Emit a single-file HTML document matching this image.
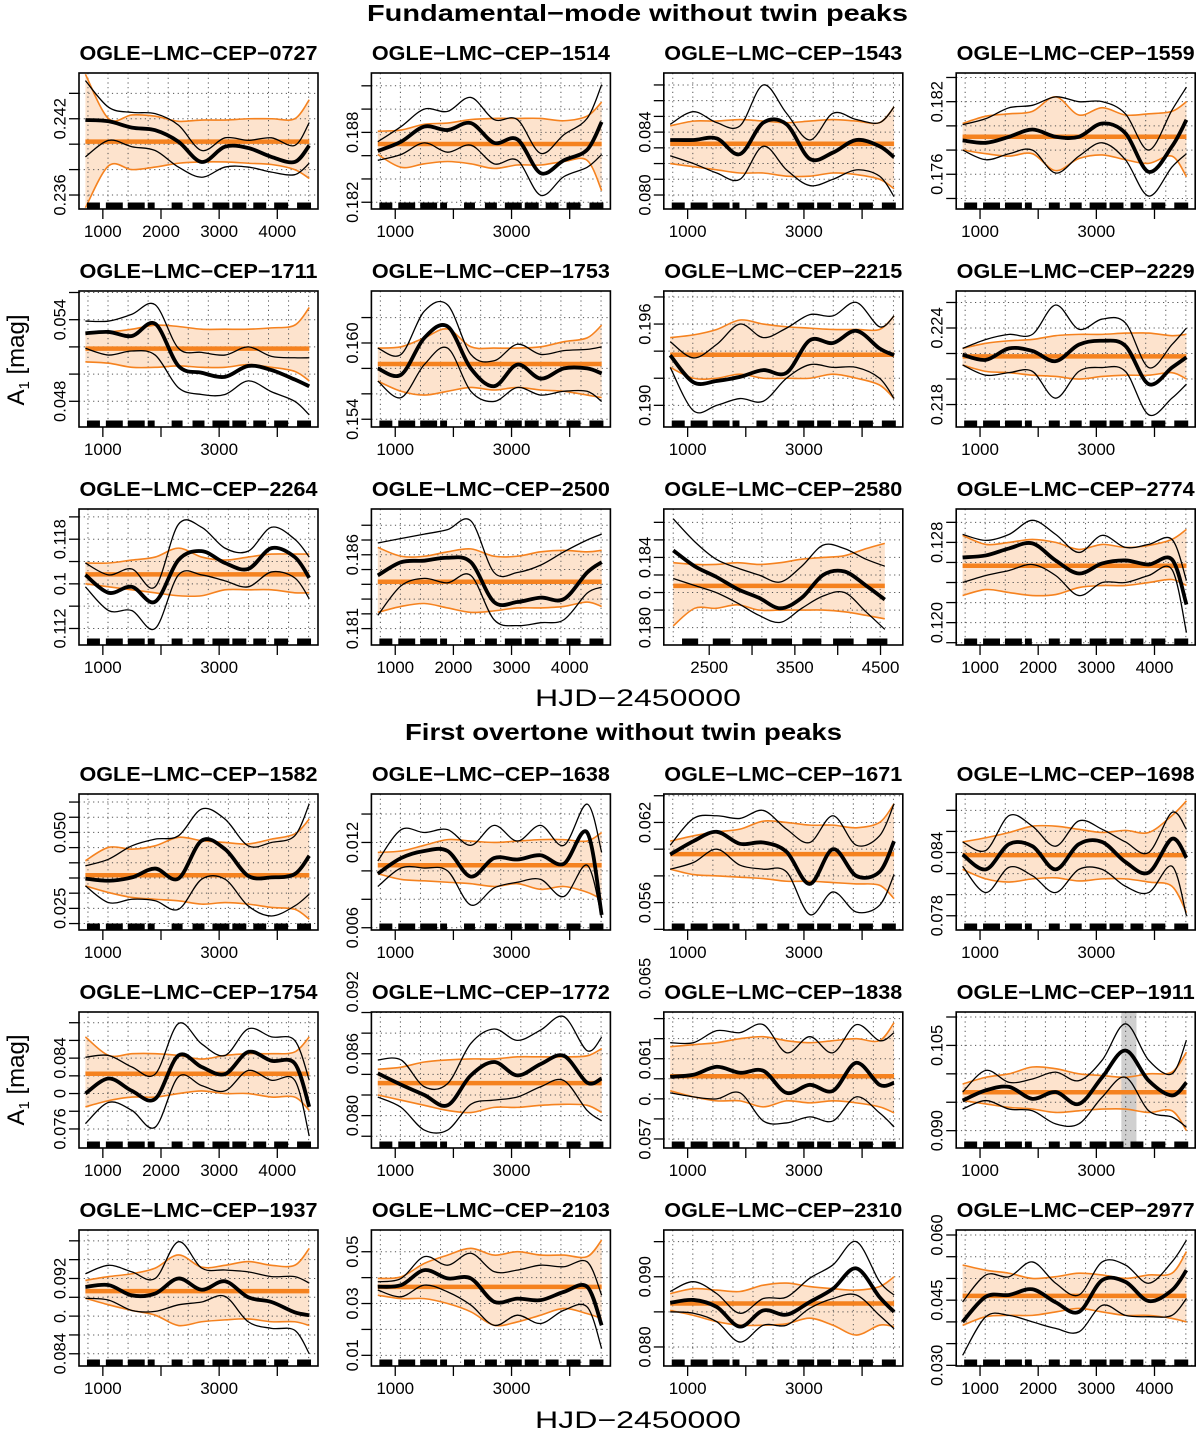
<!DOCTYPE html>
<html><head><meta charset="utf-8"><style>
html,body{margin:0;padding:0;background:#fff;}
svg{display:block;}
text{font-family:"Liberation Sans",Arial,sans-serif;fill:#000;}
</style></head><body>
<svg id="fig" width="1200" height="1430" viewBox="0 0 1200 1430" xmlns="http://www.w3.org/2000/svg">
<text x="637.5" y="21" text-anchor="middle" font-size="23" font-weight="bold" textLength="541" lengthAdjust="spacingAndGlyphs">Fundamental−mode without twin peaks</text>
<text x="623.5" y="740" text-anchor="middle" font-size="23" font-weight="bold" textLength="437" lengthAdjust="spacingAndGlyphs">First overtone without twin peaks</text>
<text x="638" y="706" text-anchor="middle" font-size="24" textLength="206" lengthAdjust="spacingAndGlyphs">HJD−2450000</text>
<text x="638" y="1428" text-anchor="middle" font-size="24" textLength="206" lengthAdjust="spacingAndGlyphs">HJD−2450000</text>
<text transform="translate(24,360) rotate(-90)" text-anchor="middle" font-size="24">A<tspan font-size="15" dy="5">1</tspan><tspan dy="-5"> [mag]</tspan></text>
<text transform="translate(24,1080) rotate(-90)" text-anchor="middle" font-size="24">A<tspan font-size="15" dy="5">1</tspan><tspan dy="-5"> [mag]</tspan></text>
</svg>
<script>
// ---- shared x samples ----
const hjd = [700,1100,1500,1900,2300,2700,3100,3500,3900,4300,4550];
const hjd2580 = [2080,2330,2580,2830,3080,3330,3580,3830,4080,4330,4550];
const xTicksStd = [1000,2000,3000,4000];
const xLabStd = ['1000','','3000',''];
const xLabFull = ['1000','2000','3000','4000'];
const xTicks2580 = [2500,3000,3500,4000,4500];
const xLab2580 = ['2500','','3500','','4500'];
const rugSeasons = [[727,950],[1052,1343],[1429,1720],[1772,1891],[2183,2371],[2542,2748],[2885,3176],[3227,3467],[3587,3809],[3946,4186],[4340,4580]];

// ---- 0727 ----
const c0727 = [0.2419,0.2418,0.2413,0.2411,0.2402,0.2386,0.2398,0.2397,0.2390,0.2386,0.2399];
const u0727 = [0.2450,0.2429,0.2425,0.2424,0.2415,0.2395,0.2405,0.2403,0.2405,0.2399,0.2417];
const l0727 = [0.2390,0.2403,0.2398,0.2395,0.2382,0.2374,0.2382,0.2382,0.2378,0.2376,0.2385];
const bu0727 = [0.2455,0.2420,0.2423,0.2422,0.2418,0.2419,0.2419,0.2420,0.2420,0.2420,0.2435];
const bl0727 = [0.2350,0.2383,0.2380,0.2382,0.2385,0.2386,0.2386,0.2385,0.2384,0.2380,0.2373];
const yt0727 = [0.244,0.242,0.240,0.238,0.236];
const yl0727 = ['','0.242','','','0.236'];
// ---- 1514 ----
const c1514 = [0.1864,0.1872,0.1885,0.1882,0.1888,0.1871,0.1874,0.1845,0.1856,0.1865,0.1889];
const u1514 = [0.1872,0.1885,0.1900,0.1898,0.1910,0.1891,0.1891,0.1862,0.1878,0.1892,0.1921];
const l1514 = [0.1856,0.1861,0.1871,0.1863,0.1869,0.1853,0.1856,0.1826,0.1842,0.1850,0.1861];
const bu1514 = [0.1881,0.1882,0.1887,0.1888,0.1891,0.1892,0.1892,0.1892,0.1890,0.1894,0.1906];
const bl1514 = [0.1861,0.1850,0.1853,0.1855,0.1853,0.1849,0.1852,0.1852,0.1855,0.1856,0.1830];
const yt1514 = [0.192,0.190,0.188,0.186,0.184,0.182];
const yl1514 = ['','','0.188','','','0.182'];
// ---- 1543 ----
const c1543 = [0.0835,0.0835,0.0836,0.0826,0.0846,0.0845,0.0823,0.0827,0.0835,0.0831,0.0824];
const u1543 = [0.0845,0.0853,0.0846,0.0844,0.0870,0.0852,0.0835,0.0852,0.0848,0.0846,0.0856];
const l1543 = [0.0825,0.0820,0.0814,0.0810,0.0831,0.0816,0.0806,0.0810,0.0816,0.0812,0.0799];
const bu1543 = [0.0844,0.0847,0.0847,0.0848,0.0847,0.0846,0.0847,0.0848,0.0847,0.0846,0.0856];
const bl1543 = [0.0820,0.0818,0.0816,0.0814,0.0814,0.0812,0.0812,0.0814,0.0813,0.0810,0.0804];
const yt1543 = [0.087,0.086,0.085,0.084,0.083,0.082,0.081,0.080];
const yl1543 = ['','','','0.084','','0.0','','0.080'];
// ---- 1559 ----
const c1559 = [0.1788,0.1786,0.1791,0.1797,0.1791,0.1791,0.1802,0.1794,0.1762,0.1783,0.1805];
const u1559 = [0.1801,0.1806,0.1815,0.1817,0.1824,0.1820,0.1820,0.1810,0.1780,0.1813,0.1832];
const l1559 = [0.1780,0.1772,0.1777,0.1780,0.1761,0.1775,0.1786,0.1772,0.1742,0.1766,0.1777];
const bu1559 = [0.1802,0.1808,0.1810,0.1812,0.1824,0.1809,0.1815,0.1809,0.1810,0.1812,0.1820];
const bl1559 = [0.1780,0.1777,0.1775,0.1777,0.1763,0.1773,0.1776,0.1772,0.1769,0.1775,0.1758];
const yt1559 = [0.184,0.182,0.180,0.178,0.176,0.174];
const yl1559 = ['','0.182','','','0.176',''];
// ---- 1711 ----
const c1711 = [0.0530,0.0531,0.0528,0.0537,0.0506,0.0501,0.0498,0.0506,0.0503,0.0496,0.0491];
const u1711 = [0.0539,0.0539,0.0544,0.0551,0.0519,0.0516,0.0514,0.0520,0.0513,0.0512,0.0512];
const l1711 = [0.0519,0.0514,0.0517,0.0514,0.0490,0.0485,0.0485,0.0495,0.0487,0.0480,0.0470];
const bu1711 = [0.0530,0.0531,0.0533,0.0536,0.0535,0.0533,0.0533,0.0533,0.0534,0.0536,0.0549];
const bl1711 = [0.0509,0.0508,0.0505,0.0505,0.0506,0.0505,0.0505,0.0507,0.0505,0.0502,0.0495];
const yt1711 = [0.056,0.054,0.052,0.050,0.048];
const yl1711 = ['','0.054','','','0.048'];
// ---- 1753 ----
const c1753 = [0.1580,0.1575,0.1604,0.1613,0.1580,0.1566,0.1583,0.1572,0.1580,0.1580,0.1576];
const u1753 = [0.1596,0.1591,0.1625,0.1630,0.1591,0.1586,0.1599,0.1591,0.1594,0.1595,0.1597];
const l1753 = [0.1570,0.1557,0.1583,0.1596,0.1562,0.1554,0.1565,0.1559,0.1562,0.1562,0.1554];
const bu1753 = [0.1596,0.1597,0.1604,0.1611,0.1597,0.1596,0.1596,0.1597,0.1601,0.1604,0.1614];
const bl1753 = [0.1570,0.1562,0.1559,0.1562,0.1565,0.1563,0.1565,0.1563,0.1562,0.1559,0.1557];
const yt1753 = [0.162,0.160,0.158,0.156,0.154];
const yl1753 = ['','0.160','','','0.154'];
// ---- 2215 ----
const c2215 = [0.1937,0.1917,0.1918,0.1921,0.1926,0.1924,0.1948,0.1946,0.1955,0.1942,0.1937];
const u2215 = [0.1947,0.1935,0.1945,0.1960,0.1950,0.1957,0.1967,0.1966,0.1976,0.1958,0.1966];
const l2215 = [0.1928,0.1896,0.1900,0.1905,0.1903,0.1920,0.1930,0.1928,0.1928,0.1920,0.1905];
const bu2215 = [0.1950,0.1952,0.1956,0.1963,0.1960,0.1958,0.1957,0.1956,0.1956,0.1956,0.1966];
const bl2215 = [0.1928,0.1920,0.1920,0.1923,0.1920,0.1920,0.1920,0.1923,0.1920,0.1915,0.1905];
const yt2215 = [0.198,0.196,0.194,0.192,0.190];
const yl2215 = ['','0.196','0.1','','0.190'];
// ---- 2229 ----
const c2229 = [0.2219,0.2215,0.2224,0.2222,0.2214,0.2227,0.2230,0.2226,0.2196,0.2209,0.2217];
const u2229 = [0.2224,0.2231,0.2235,0.2235,0.2258,0.2239,0.2247,0.2244,0.2209,0.2227,0.2240];
const l2229 = [0.2211,0.2203,0.2205,0.2206,0.2185,0.2206,0.2209,0.2206,0.2172,0.2185,0.2196];
const bu2229 = [0.2224,0.2228,0.2230,0.2231,0.2234,0.2235,0.2235,0.2236,0.2236,0.2234,0.2235];
const bl2229 = [0.2211,0.2206,0.2205,0.2203,0.2202,0.2200,0.2202,0.2203,0.2203,0.2205,0.2200];
const yt2229 = [0.226,0.224,0.222,0.220,0.218];
const yl2229 = ['','0.224','','','0.218'];
// ---- 2264 ----
const c2264 = [0.1156,0.1144,0.1148,0.1138,0.1166,0.1172,0.1164,0.1160,0.1174,0.1168,0.1154];
const u2264 = [0.1164,0.1156,0.1160,0.1148,0.1190,0.1188,0.1174,0.1172,0.1188,0.1180,0.1168];
const l2264 = [0.1148,0.1132,0.1132,0.1120,0.1156,0.1156,0.1152,0.1148,0.1158,0.1154,0.1140];
const bu2264 = [0.1164,0.1164,0.1166,0.1168,0.1174,0.1168,0.1166,0.1168,0.1170,0.1170,0.1170];
const bl2264 = [0.1150,0.1148,0.1146,0.1144,0.1142,0.1142,0.1146,0.1146,0.1146,0.1144,0.1144];
const yt2264 = [0.1195,0.118,0.1165,0.115,0.1135,0.112];
const yl2264 = ['','0.118','','0.1','','0.112'];
// ---- 2500 ----
const c2500 = [0.1846,0.1855,0.1856,0.1858,0.1855,0.1828,0.1828,0.1831,0.1830,0.1848,0.1855];
const u2500 = [0.1868,0.1871,0.1874,0.1877,0.1883,0.1848,0.1848,0.1853,0.1862,0.1870,0.1874];
const l2500 = [0.1819,0.1839,0.1844,0.1841,0.1846,0.1816,0.1812,0.1814,0.1816,0.1834,0.1838];
const bu2500 = [0.1865,0.1859,0.1859,0.1862,0.1864,0.1859,0.1859,0.1862,0.1863,0.1862,0.1863];
const bl2500 = [0.1821,0.1825,0.1827,0.1824,0.1821,0.1822,0.1824,0.1824,0.1825,0.1828,0.1825];
const yt2500 = [0.188,0.187,0.186,0.185,0.184,0.183,0.182,0.181];
const yl2500 = ['','','0.186','','0.','','','0.181'];
// ---- 2580 ----
const c2580 = [0.1844,0.1835,0.1829,0.1822,0.1817,0.1811,0.1817,0.1830,0.1832,0.1824,0.1816];
const u2580 = [0.1862,0.1849,0.1839,0.1834,0.1830,0.1826,0.1835,0.1847,0.1845,0.1839,0.1835];
const l2580 = [0.1828,0.1824,0.1820,0.1814,0.1807,0.1803,0.1811,0.1818,0.1820,0.1809,0.1799];
const bu2580 = [0.1837,0.1836,0.1836,0.1837,0.1836,0.1837,0.1839,0.1840,0.1841,0.1845,0.1848];
const bl2580 = [0.1801,0.1811,0.1811,0.1813,0.1810,0.1810,0.1810,0.1810,0.1809,0.1807,0.1805];
const yt2580 = [0.186,0.185,0.184,0.183,0.182,0.181,0.180];
const yl2580 = ['','','0.184','','0.','','0.180'];
// ---- 2774 ----
const c2774 = [0.1265,0.1267,0.1274,0.1279,0.1262,0.1249,0.1259,0.1262,0.1258,0.1263,0.1218];
const u2774 = [0.1288,0.1282,0.1288,0.1302,0.1288,0.1270,0.1287,0.1275,0.1278,0.1283,0.1242];
const l2774 = [0.1240,0.1247,0.1252,0.1258,0.1247,0.1227,0.1240,0.1240,0.1247,0.1253,0.1190];
const bu2774 = [0.1287,0.1278,0.1280,0.1283,0.1280,0.1273,0.1278,0.1275,0.1277,0.1283,0.1293];
const bl2774 = [0.1227,0.1233,0.1230,0.1227,0.1228,0.1235,0.1237,0.1237,0.1240,0.1243,0.1237];
const yt2774 = [0.130,0.128,0.126,0.124,0.122,0.120,0.118];
const yl2774 = ['','0.128','','','','0.120',''];
// ---- 1582 ----
const c1582 = [0.0348,0.0341,0.0352,0.0381,0.0348,0.0473,0.0445,0.0357,0.0352,0.0363,0.0423];
const u1582 = [0.0390,0.0412,0.0456,0.0478,0.0489,0.0577,0.0544,0.0456,0.0467,0.0489,0.0594];
const l1582 = [0.0324,0.0269,0.0280,0.0275,0.0247,0.0346,0.0346,0.0258,0.0225,0.0258,0.0297];
const bu1582 = [0.0407,0.0451,0.0445,0.0456,0.0484,0.0473,0.0467,0.0462,0.0478,0.0495,0.0544];
const bl1582 = [0.0324,0.0302,0.0286,0.0280,0.0275,0.0264,0.0269,0.0264,0.0253,0.0247,0.0214];
const yt1582 = [0.060,0.055,0.050,0.045,0.040,0.035,0.030,0.025,0.020];
const yl1582 = ['','','0.050','','','','','0.025',''];
// ---- 1638 ----
const c1638 = [0.0098,0.0109,0.0114,0.0114,0.0096,0.0109,0.0108,0.0111,0.0105,0.0127,0.0069];
const u1638 = [0.0107,0.0129,0.0127,0.0129,0.0118,0.0132,0.0121,0.0132,0.0118,0.0147,0.0113];
const l1638 = [0.0089,0.0102,0.0102,0.0100,0.0076,0.0088,0.0092,0.0094,0.0082,0.0104,0.0067];
const bu1638 = [0.0113,0.0114,0.0118,0.0122,0.0121,0.0120,0.0121,0.0122,0.0122,0.0121,0.0127];
const bl1638 = [0.0098,0.0094,0.0093,0.0092,0.0091,0.0089,0.0091,0.0087,0.0089,0.0085,0.0080];
const yt1638 = [0.014,0.012,0.010,0.008,0.006];
const yl1638 = ['','0.012','','','0.006'];
// ---- 1671 ----
const c1671 = [0.0596,0.0606,0.0613,0.0604,0.0605,0.0598,0.0574,0.0600,0.0580,0.0583,0.0606];
const u1671 = [0.0603,0.0623,0.0625,0.0623,0.0629,0.0615,0.0605,0.0625,0.0603,0.0610,0.0634];
const l1671 = [0.0585,0.0590,0.0600,0.0588,0.0585,0.0583,0.0551,0.0568,0.0553,0.0558,0.0581];
const bu1671 = [0.0606,0.0610,0.0613,0.0615,0.0621,0.0620,0.0618,0.0618,0.0616,0.0620,0.0634];
const bl1671 = [0.0585,0.0581,0.0580,0.0579,0.0578,0.0576,0.0576,0.0575,0.0574,0.0573,0.0563];
const yt1671 = [0.064,0.062,0.060,0.058,0.056,0.054];
const yl1671 = ['','0.062','','','0.056',''];
// ---- 1698 ----
const c1698 = [0.0838,0.0824,0.0848,0.0846,0.0824,0.0848,0.0850,0.0831,0.0821,0.0853,0.0835];
const u1698 = [0.0850,0.0842,0.0875,0.0865,0.0846,0.0870,0.0862,0.0850,0.0840,0.0878,0.0862];
const l1698 = [0.0827,0.0802,0.0826,0.0818,0.0802,0.0824,0.0824,0.0808,0.0802,0.0827,0.0780];
const bu1698 = [0.0850,0.0854,0.0859,0.0865,0.0865,0.0862,0.0859,0.0861,0.0859,0.0875,0.0889];
const bl1698 = [0.0824,0.0815,0.0812,0.0815,0.0816,0.0813,0.0815,0.0815,0.0812,0.0808,0.0783];
const yt1698 = [0.088,0.086,0.084,0.082,0.080,0.078];
const yl1698 = ['','','0.084','0.','','0.078'];
// ---- 1754 ----
const c1754 = [0.0800,0.0817,0.0803,0.0794,0.0843,0.0830,0.0822,0.0847,0.0837,0.0834,0.0785];
const u1754 = [0.0841,0.0843,0.0830,0.0822,0.0879,0.0856,0.0843,0.0873,0.0864,0.0860,0.0815];
const l1754 = [0.0766,0.0790,0.0781,0.0762,0.0819,0.0809,0.0803,0.0826,0.0815,0.0815,0.0752];
const bu1754 = [0.0864,0.0843,0.0845,0.0845,0.0843,0.0839,0.0843,0.0845,0.0845,0.0847,0.0864];
const bl1754 = [0.0785,0.0792,0.0796,0.0796,0.0800,0.0803,0.0800,0.0800,0.0796,0.0796,0.0781];
const yt1754 = [0.088,0.086,0.084,0.082,0.080,0.078,0.076];
const yl1754 = ['','','0.084','','0','','0.076'];
// ---- 1772 ----
const c1772 = [0.0841,0.0830,0.0820,0.0810,0.0839,0.0852,0.0839,0.0850,0.0858,0.0832,0.0836];
const u1772 = [0.0854,0.0854,0.0828,0.0831,0.0870,0.0884,0.0873,0.0883,0.0896,0.0863,0.0876];
const l1772 = [0.0818,0.0808,0.0786,0.0786,0.0811,0.0815,0.0818,0.0828,0.0834,0.0805,0.0795];
const bu1772 = [0.0845,0.0847,0.0852,0.0854,0.0855,0.0855,0.0857,0.0857,0.0857,0.0858,0.0865];
const bl1772 = [0.0820,0.0815,0.0810,0.0805,0.0803,0.0808,0.0808,0.0810,0.0811,0.0810,0.0803];
const yt1772 = [0.092,0.090,0.088,0.086,0.084,0.082,0.080,0.078];
const yl1772 = ['0.092','','','0.086','','0.','0.080',''];
// ---- 1838 ----
const c1838 = [0.0601,0.0602,0.0606,0.0603,0.0604,0.0593,0.0597,0.0594,0.0608,0.0597,0.0598];
const u1838 = [0.0618,0.0618,0.0624,0.0623,0.0627,0.0613,0.0621,0.0613,0.0627,0.0619,0.0623];
const l1838 = [0.0593,0.0591,0.0590,0.0593,0.0579,0.0578,0.0581,0.0579,0.0591,0.0583,0.0576];
const bu1838 = [0.0616,0.0617,0.0618,0.0620,0.0621,0.0619,0.0618,0.0619,0.0620,0.0619,0.0628];
const bl1838 = [0.0594,0.0591,0.0589,0.0589,0.0586,0.0589,0.0588,0.0589,0.0588,0.0586,0.0583];
const yt1838 = [0.065,0.063,0.062,0.061,0.060,0.059,0.058,0.057];
const yl1838 = ['0.065','','','0.061','','0.','','0.057'];
// ---- 1911 ----
const c1911 = [0.0953,0.0971,0.0977,0.0956,0.0968,0.0947,0.0994,0.1041,0.0988,0.0962,0.0985];
const u1911 = [0.0968,0.1006,0.0985,0.0991,0.1003,0.0988,0.1024,0.1088,0.1024,0.1000,0.1059];
const l1911 = [0.0938,0.0953,0.0938,0.0935,0.0912,0.0912,0.0959,0.0994,0.0935,0.0924,0.0906];
const bu1911 = [0.0982,0.0994,0.1000,0.1012,0.1009,0.1000,0.0997,0.0994,0.1000,0.1003,0.1038];
const bl1911 = [0.0953,0.0947,0.0941,0.0938,0.0932,0.0935,0.0938,0.0938,0.0932,0.0935,0.0900];
const yt1911 = [0.110,0.105,0.100,0.095,0.090];
const yl1911 = ['','0.105','','','0.090'];
const hl1911 = [3430,3690];
// ---- 1937 ----
const c1937 = [0.0911,0.0913,0.0902,0.0904,0.0920,0.0908,0.0917,0.0900,0.0895,0.0884,0.0881];
const u1937 = [0.0925,0.0934,0.0927,0.0920,0.0959,0.0931,0.0929,0.0927,0.0922,0.0922,0.0915];
const l1937 = [0.0899,0.0897,0.0886,0.0885,0.0892,0.0895,0.0901,0.0874,0.0867,0.0865,0.0840];
const bu1937 = [0.0918,0.0922,0.0925,0.0931,0.0945,0.0932,0.0934,0.0938,0.0934,0.0934,0.0952];
const bl1937 = [0.0899,0.0892,0.0886,0.0881,0.0870,0.0874,0.0876,0.0877,0.0874,0.0874,0.0870];
const yt1937 = [0.096,0.094,0.092,0.090,0.088,0.086,0.084];
const yl1937 = ['','','0.092','','0.','','0.084'];
// ---- 2103 ----
const c2103 = [0.0365,0.0371,0.0429,0.0397,0.0397,0.0307,0.0319,0.0313,0.0345,0.0365,0.0216];
const u2103 = [0.0384,0.0397,0.0481,0.0448,0.0494,0.0423,0.0429,0.0448,0.0442,0.0461,0.0332];
const l2103 = [0.0352,0.0326,0.0371,0.0345,0.0294,0.0216,0.0255,0.0223,0.0274,0.0287,0.0126];
const bu2103 = [0.0397,0.0403,0.0455,0.0487,0.0513,0.0487,0.0500,0.0487,0.0487,0.0481,0.0545];
const bl2103 = [0.0332,0.0319,0.0319,0.0300,0.0268,0.0216,0.0229,0.0255,0.0281,0.0261,0.0242];
const yt2103 = [0.05,0.04,0.03,0.02,0.01];
const yl2103 = ['0.05','','0.03','','0.01'];
// ---- 2310 ----
const c2310 = [0.0863,0.0867,0.0857,0.0829,0.0852,0.0846,0.0864,0.0883,0.0912,0.0871,0.0850];
const u2310 = [0.0879,0.0893,0.0876,0.0848,0.0869,0.0871,0.0898,0.0917,0.0950,0.0893,0.0874];
const l2310 = [0.0850,0.0848,0.0836,0.0807,0.0831,0.0831,0.0855,0.0869,0.0874,0.0845,0.0826];
const bu2310 = [0.0876,0.0883,0.0881,0.0879,0.0888,0.0891,0.0886,0.0883,0.0881,0.0886,0.0900];
const bl2310 = [0.0852,0.0845,0.0836,0.0831,0.0831,0.0833,0.0841,0.0831,0.0817,0.0831,0.0829];
const yt2310 = [0.095,0.090,0.085,0.080];
const yl2310 = ['','0.090','','0.080'];
// ---- 2977 ----
const c2977 = [0.0400,0.0458,0.0462,0.0475,0.0445,0.0423,0.0496,0.0492,0.0448,0.0473,0.0519];
const u2977 = [0.0446,0.0508,0.0504,0.0538,0.0489,0.0462,0.0538,0.0531,0.0489,0.0538,0.0588];
const l2977 = [0.0323,0.0412,0.0415,0.0400,0.0385,0.0377,0.0438,0.0415,0.0412,0.0415,0.0454];
const bu2977 = [0.0531,0.0519,0.0512,0.0500,0.0504,0.0512,0.0508,0.0500,0.0508,0.0512,0.0562];
const bl2977 = [0.0392,0.0412,0.0415,0.0415,0.0423,0.0431,0.0423,0.0415,0.0415,0.0408,0.0400];
const yt2977 = [0.060,0.055,0.050,0.045,0.040,0.035,0.030];
const yl2977 = ['0.060','','','0.045','','','0.030'];

const panels = [
 {id:'0727',r:0,c:0,yd:[0.2349,0.2456],mean:0.2402,cen:c0727,up:u0727,lo:l0727,bu:bu0727,bl:bl0727,yt:yt0727,yl:yl0727,xl:xLabFull},
 {id:'1514',r:0,c:1,yd:[0.18142,0.1931],mean:0.1870,cen:c1514,up:u1514,lo:l1514,bu:bu1514,bl:bl1514,yt:yt1514,yl:yl1514},
 {id:'1543',r:0,c:2,yd:[0.07911,0.08776],mean:0.08326,cen:c1543,up:u1543,lo:l1543,bu:bu1543,bl:bl1543,yt:yt1543,yl:yl1543},
 {id:'1559',r:0,c:3,yd:[0.17313,0.18437],mean:0.1791,cen:c1559,up:u1559,lo:l1559,bu:bu1559,bl:bl1559,yt:yt1559,yl:yl1559},
 {id:'1711',r:1,c:0,yd:[0.04611,0.05611],mean:0.05187,cen:c1711,up:u1711,lo:l1711,bu:bu1711,bl:bl1711,yt:yt1711,yl:yl1711},
 {id:'1753',r:1,c:1,yd:[0.15339,0.16409],mean:0.15835,cen:c1753,up:u1753,lo:l1753,bu:bu1753,bl:bl1753,yt:yt1753,yl:yl1753},
 {id:'2215',r:1,c:2,yd:[0.1884,0.19844],mean:0.19373,cen:c2215,up:u2215,lo:l2215,bu:bu2215,bl:bl2215,yt:yt2215,yl:yl2215},
 {id:'2229',r:1,c:3,yd:[0.21624,0.2269],mean:0.22178,cen:c2229,up:u2229,lo:l2229,bu:bu2229,bl:bl2229,yt:yt2229,yl:yl2229},
 {id:'2264',r:2,c:0,yd:[0.11089,0.12003],mean:0.11564,cen:c2264,up:u2264,lo:l2264,bu:bu2264,bl:bl2264,yt:yt2264,yl:yl2264},
 {id:'2500',r:2,c:1,yd:[0.17989,0.1891],mean:0.18417,cen:c2500,up:u2500,lo:l2500,bu:bu2500,bl:bl2500,yt:yt2500,yl:yl2500,xl:xLabFull},
 {id:'2580',r:2,c:2,yd:[0.17901,0.18676],mean:0.18238,cen:c2580,up:u2580,lo:l2580,bu:bu2580,bl:bl2580,yt:yt2580,yl:yl2580,xs:hjd2580,xd:[1970,4760],xt:xTicks2580,xl:xLab2580},
 {id:'2774',r:2,c:3,yd:[0.11777,0.13133],mean:0.12567,cen:c2774,up:u2774,lo:l2774,bu:bu2774,bl:bl2774,yt:yt2774,yl:yl2774,xl:xLabFull},
 {id:'1582',r:3,c:0,yd:[0.01788,0.06265],mean:0.03592,cen:c1582,up:u1582,lo:l1582,bu:bu1582,bl:bl1582,yt:yt1582,yl:yl1582},
 {id:'1638',r:3,c:1,yd:[0.00584,0.01541],mean:0.0104,cen:c1638,up:u1638,lo:l1638,bu:bu1638,bl:bl1638,yt:yt1638,yl:yl1638},
 {id:'1671',r:3,c:2,yd:[0.05395,0.06413],mean:0.05963,cen:c1671,up:u1671,lo:l1671,bu:bu1671,bl:bl1671,yt:yt1671,yl:yl1671},
 {id:'1698',r:3,c:3,yd:[0.07665,0.08955],mean:0.08375,cen:c1698,up:u1698,lo:l1698,bu:bu1698,bl:bl1698,yt:yt1698,yl:yl1698},
 {id:'1754',r:4,c:0,yd:[0.07385,0.08921],mean:0.08223,cen:c1754,up:u1754,lo:l1754,bu:bu1754,bl:bl1754,yt:yt1754,yl:yl1754,xl:xLabFull},
 {id:'1772',r:4,c:1,yd:[0.07686,0.09005],mean:0.08315,cen:c1772,up:u1772,lo:l1772,bu:bu1772,bl:bl1772,yt:yt1772,yl:yl1772},
 {id:'1838',r:4,c:2,yd:[0.05655,0.06333],mean:0.06013,cen:c1838,up:u1838,lo:l1838,bu:bu1838,bl:bl1838,yt:yt1838,yl:yl1838},
 {id:'1911',r:4,c:3,yd:[0.08695,0.11088],mean:0.09677,cen:c1911,up:u1911,lo:l1911,bu:bu1911,bl:bl1911,yt:yt1911,yl:yl1911,hl:hl1911},
 {id:'1937',r:5,c:0,yd:[0.0827,0.09715],mean:0.09065,cen:c1937,up:u1937,lo:l1937,bu:bu1937,bl:bl1937,yt:yt1937,yl:yl1937},
 {id:'2103',r:5,c:1,yd:[0.00588,0.05839],mean:0.03645,cen:c2103,up:u2103,lo:l2103,bu:bu2103,bl:bl2103,yt:yt2103,yl:yl2103},
 {id:'2310',r:5,c:2,yd:[0.07729,0.09666],mean:0.08619,cen:c2310,up:u2310,lo:l2310,bu:bu2310,bl:bl2310,yt:yt2310,yl:yl2310},
 {id:'2977',r:5,c:3,yd:[0.02985,0.06115],mean:0.046,cen:c2977,up:u2977,lo:l2977,bu:bu2977,bl:bl2977,yt:yt2977,yl:yl2977,xl:xLabFull}
];

const NS='http://www.w3.org/2000/svg';
const svg=document.getElementById('fig');
const colL=[79,371.4,663.8,956.2];
const rowT=[73,291,509,794,1012,1230];
const W=239, H=136;
const ORANGE='#f5821f', PEACH='#fde3cd';

function mk(parent,tag,attrs){const e=document.createElementNS(NS,tag);for(const k in attrs)e.setAttribute(k,attrs[k]);parent.appendChild(e);return e;}
function crPath(pts,cont){
  let d=(cont?'L':'M')+pts[0][0].toFixed(2)+','+pts[0][1].toFixed(2);
  for(let i=0;i<pts.length-1;i++){
    const p0=pts[i-1]||pts[i],p1=pts[i],p2=pts[i+1],p3=pts[i+2]||pts[i+1];
    const c1x=p1[0]+(p2[0]-p0[0])/6,c1y=p1[1]+(p2[1]-p0[1])/6;
    const c2x=p2[0]-(p3[0]-p1[0])/6,c2y=p2[1]-(p3[1]-p1[1])/6;
    d+=' C'+c1x.toFixed(2)+','+c1y.toFixed(2)+' '+c2x.toFixed(2)+','+c2y.toFixed(2)+' '+p2[0].toFixed(2)+','+p2[1].toFixed(2);
  }
  return d;
}
function labelLen(s){let n=0;for(const ch of s)n+=(ch==='.'?0.278:0.556);return n*16.5;}

panels.forEach(p=>{
  const L=colL[p.c], T=rowT[p.r];
  const xd=p.xd||[590,4700], xs=p.xs||hjd, xt=p.xt||xTicksStd, xl=p.xl||xLabStd;
  const sx=v=>L+(v-xd[0])/(xd[1]-xd[0])*W;
  const sy=v=>T+(p.yd[1]-v)/(p.yd[1]-p.yd[0])*H;
  const g=mk(svg,'g',{});
  
  
  const cp=mk(g,'clipPath',{id:'clip'+p.id});
  mk(cp,'rect',{x:L,y:T,width:W,height:H});
  const t=mk(g,'text',{x:L+W/2,y:T-13,'text-anchor':'middle','font-size':20,'font-weight':'bold',textLength:238,lengthAdjust:'spacingAndGlyphs'});
  t.textContent='OGLE−LMC−CEP−'+p.id;
  
  
  const plot=mk(g,'g',{'clip-path':'url(#clip'+p.id+')'});
  
  
  const upPts=xs.map((x,i)=>[sx(x),sy(p.bu[i])]);
  const loPts=xs.map((x,i)=>[sx(x),sy(p.bl[i])]).reverse();
  const band=mk(plot,'path',{d:crPath(upPts)+' '+crPath(loPts,true)+' Z',fill:PEACH,stroke:'none'});
  
  
  if(p.hl){
    const hr=mk(plot,'rect',{x:sx(p.hl[0]),y:T,width:sx(p.hl[1])-sx(p.hl[0]),height:H,fill:'#c8c8c8','fill-opacity':0.85});
    
    
  }
  const gx0=(p.xd?2080:744), gstep=345;
  for(let gv=gx0; gv<xd[1]-60; gv+=gstep){
    const gl=mk(plot,'line',{x1:sx(gv),x2:sx(gv),y1:T,y2:T+H,stroke:'#555','stroke-width':1,'stroke-dasharray':'1.2 3.5'});
    
    
  }
  p.yt.forEach(v=>{
    const yy=sy(v); if(yy<T||yy>T+H) return;
    const gl=mk(plot,'line',{x1:L,x2:L+W,y1:yy,y2:yy,stroke:'#555','stroke-width':1,'stroke-dasharray':'1.2 3.5'});
    
    
  });
  const be1=mk(plot,'path',{d:crPath(upPts),fill:'none',stroke:ORANGE,'stroke-width':1.6});
  
  
  const be2=mk(plot,'path',{d:crPath(loPts),fill:'none',stroke:ORANGE,'stroke-width':1.6});
  
  
  const ml=mk(plot,'line',{x1:sx(xs[0]),x2:sx(xs[xs.length-1]),y1:sy(p.mean),y2:sy(p.mean),stroke:ORANGE,'stroke-width':4.5});
  
  
  const ul=mk(plot,'path',{d:crPath(xs.map((x,i)=>[sx(x),sy(p.up[i])])),fill:'none',stroke:'#000','stroke-width':1.3});
  
  
  const ll=mk(plot,'path',{d:crPath(xs.map((x,i)=>[sx(x),sy(p.lo[i])])),fill:'none',stroke:'#000','stroke-width':1.3});
  
  
  const cl=mk(plot,'path',{d:crPath(xs.map((x,i)=>[sx(x),sy(p.cen[i])])),fill:'none',stroke:'#000','stroke-width':3.8,'stroke-linejoin':'round'});
  
  
  rugSeasons.forEach(s=>{
    const a=Math.max(s[0],xs[0]), b=s[1]; if(b<=a) return;
    const rr=mk(plot,'rect',{x:sx(a),y:T+H-6.5,width:sx(b)-sx(a),height:6.5,fill:'#000'});
    
    
  });
  const bx=mk(g,'rect',{x:L,y:T,width:W,height:H,fill:'none',stroke:'#000','stroke-width':1.6});
  
  
  xt.forEach((v,i)=>{
    const xx=sx(v);
    const tk=mk(g,'line',{x1:xx,x2:xx,y1:T+H,y2:T+H+10,stroke:'#000','stroke-width':1.3});
    
    
    if(xl[i]){
      const tl=mk(g,'text',{x:xx,y:T+H+28,'text-anchor':'middle','font-size':17});
      tl.textContent=xl[i];
      
      
    }
  });
  p.yt.forEach(v=>{
    const yy=sy(v);
    if(yy>=T-1&&yy<=T+H+1){
      const tk=mk(g,'line',{x1:L-10,x2:L,y1:yy,y2:yy,stroke:'#000','stroke-width':1.3});
      
      
    }
  });
  // labels: full labels first, then partial ones if room
  const used=[];
  const order=p.yl.map((s,i)=>i).filter(i=>p.yl[i]).sort((a,b)=>p.yl[b].length-p.yl[a].length);
  order.forEach(i=>{
    const s=p.yl[i], yy=sy(p.yt[i]);
    const half=labelLen(s)/2, a=yy-half-2, b=yy+half+2;
    if(used.some(u=>a<u[1]&&b>u[0])) return;
    used.push([a,b]);
    const tl=mk(g,'text',{transform:'translate('+(L-13.5)+','+yy.toFixed(2)+') rotate(-90)','text-anchor':'middle','font-size':16.5});
    tl.textContent=s;
    
    
  });
});
</script>
</body></html>
